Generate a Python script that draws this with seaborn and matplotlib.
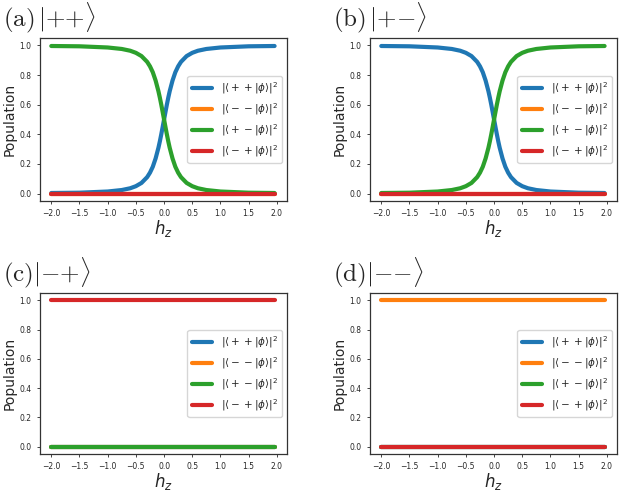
import matplotlib
matplotlib.use("Agg")
import matplotlib.pyplot as plt
import seaborn as sns

sns.set_style("ticks")

# =======================
# Data
# =======================
hz = [-2.0, -1.5, -1.0, -0.75, -0.6, -0.5, -0.4, -0.3, -0.25, -0.2, -0.15, -0.1,
      -0.075, -0.05, -0.025, 0.0, 0.025, 0.05, 0.075, 0.1, 0.15, 0.2, 0.25, 0.3,
      0.4, 0.5, 0.6, 0.75, 1.0, 1.5, 1.96]
rise = [0.004, 0.006, 0.014, 0.024, 0.036, 0.050, 0.072, 0.111, 0.141, 0.181, 0.237, 0.309,
        0.352, 0.399, 0.449, 0.500, 0.551, 0.601, 0.648, 0.691, 0.763, 0.819, 0.859, 0.889,
        0.928, 0.950, 0.964, 0.976, 0.986, 0.994, 0.996]
fall = [0.996, 0.994, 0.986, 0.976, 0.964, 0.950, 0.928, 0.889, 0.859, 0.819, 0.763, 0.691,
        0.648, 0.601, 0.551, 0.500, 0.449, 0.399, 0.352, 0.309, 0.237, 0.181, 0.141, 0.111,
        0.072, 0.050, 0.036, 0.024, 0.014, 0.006, 0.004]
zero = [0.0 for _ in hz]
one = [1.0 for _ in hz]

labels = [r"$|\langle ++|\phi\rangle|^2$", r"$|\langle --|\phi\rangle|^2$",
          r"$|\langle +-|\phi\rangle|^2$", r"$|\langle -+|\phi\rangle|^2$"]
colors = ["#1f77b4", "#ff7f0e", "#2ca02c", "#d62728"]

titles = [r"$\mathrm{(a)}\,|{+}{+}\rangle$", r"$\mathrm{(b)}\,|{+}{-}\rangle$",
          r"$\mathrm{(c)}|{-}{+}\rangle$", r"$\mathrm{(d)}|{-}{-}\rangle$"]

# series order: ++, --, +-, -+
panels = [
    [rise, zero, fall, zero],
    [fall, zero, rise, zero],
    [zero, zero, zero, one],
    [zero, one, zero, zero],
]

# =======================
# Plot
# =======================
fig = plt.figure(figsize=(6.23, 4.91), dpi=100)
positions = [
    [40 / 623, 290 / 491, 247 / 623, 163 / 491],
    [370 / 623, 290 / 491, 247 / 623, 163 / 491],
    [40 / 623, 37 / 491, 247 / 623, 161 / 491],
    [370 / 623, 37 / 491, 247 / 623, 161 / 491],
]

for pos, series, title in zip(positions, panels, titles):
    ax = fig.add_axes(pos)
    for vals, lab, col in zip(series, labels, colors):
        sns.lineplot(x=hz, y=vals, label=lab, color=col, lw=3, ax=ax)
    ax.set_xticks([-2.0, -1.5, -1.0, -0.5, 0.0, 0.5, 1.0, 1.5, 2.0])
    ax.set_yticks([0.0, 0.2, 0.4, 0.6, 0.8, 1.0])
    ax.set_xlim(-2.2, 2.18)
    ax.set_ylim(-0.05, 1.05)
    ax.tick_params(labelsize=5.5, length=2.5, width=0.6)
    for s in ax.spines.values():
        s.set_linewidth(0.9)
        s.set_color("#333333")
    ax.set_xlabel(r"$h_z$", fontsize=12, labelpad=0)
    ax.set_ylabel("Population", fontsize=10, labelpad=2)
    ax.legend(loc="center right", fontsize=7.5)
    ax.text(-0.15, 1.02, title, transform=ax.transAxes, fontsize=18,
            va="bottom", ha="left", math_fontfamily="cm")

fig.savefig("out.png", dpi=100)
